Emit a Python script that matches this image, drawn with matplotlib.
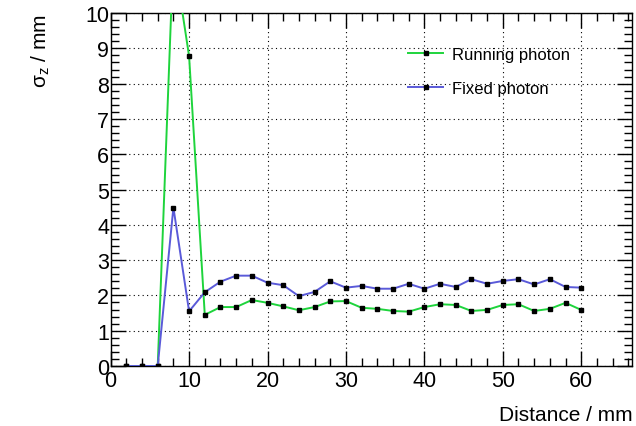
import numpy as np
import matplotlib.pyplot as plt
from matplotlib.ticker import MultipleLocator

plt.rcParams['font.family'] = ['Liberation Sans', 'DejaVu Sans']
plt.rcParams['mathtext.default'] = 'regular'

# distancias (mm)
distancia = [2, 4, 6, 8, 10, 12, 14, 16, 18, 20, 22, 24, 26, 28, 30,
             32, 34, 36, 38, 40, 42, 44, 46, 48, 50, 52, 54, 56, 58, 60]

# sigma_z running photon
running = [0, 0, 0, 11.7, 8.78, 1.45, 1.67, 1.67, 1.87, 1.79, 1.69, 1.58, 1.67, 1.83, 1.84,
           1.65, 1.62, 1.56, 1.54, 1.67, 1.75, 1.73, 1.56, 1.59, 1.73, 1.75, 1.56, 1.62, 1.79, 1.59]

# sigma_z fixed photon
fixed = [0, 0, 0, 4.49, 1.55, 2.09, 2.39, 2.56, 2.56, 2.36, 2.29, 1.98, 2.10, 2.40, 2.22,
         2.27, 2.19, 2.19, 2.33, 2.19, 2.33, 2.24, 2.46, 2.33, 2.41, 2.46, 2.31, 2.46, 2.24, 2.22]

verde = '#1ed43c'
azul = '#5a5ad9'

fig = plt.figure(figsize=(6.36, 4.27), dpi=100)
ax = fig.add_axes([0.174, 0.1405, 0.82, 0.8265])

ax.plot(distancia, running, color=verde, lw=1.4, marker='s', ms=3.5,
        mfc='black', mec='black', label='Running photon', zorder=3)
ax.plot(distancia, fixed, color=azul, lw=1.4, marker='s', ms=3.5,
        mfc='black', mec='black', label='Fixed photon', zorder=3)

ax.set_xlim(0, 66.5)
ax.set_ylim(0, 10)
ax.xaxis.set_major_locator(MultipleLocator(10))
ax.xaxis.set_minor_locator(MultipleLocator(2))
ax.yaxis.set_major_locator(MultipleLocator(1))
ax.yaxis.set_minor_locator(MultipleLocator(0.2))
ax.tick_params(which='both', direction='in', top=True, right=True, labelsize=15.5, pad=1)
ax.tick_params(axis='x', which='major', pad=3)
ax.tick_params(which='major', length=11, width=1)
ax.tick_params(which='minor', length=5.5, width=1)
ax.grid(True, which='major', color='black', linestyle=(0, (1, 3)), lw=0.8)
for s in ax.spines.values():
    s.set_linewidth(1)

ax.set_xlabel('Distance / mm', fontsize=15, loc='right', labelpad=10)
ax.set_ylabel(r'$\sigma_{z}$ / mm', fontsize=15, loc='top', labelpad=24)

leg = fig.legend(loc='upper left', bbox_to_anchor=(0.642, 0.888), frameon=False,
                 fontsize=12, handlelength=2.1, handletextpad=0.5, labelspacing=1.17,
                 borderpad=0, borderaxespad=0)

fig.savefig('out.png', dpi=100)
